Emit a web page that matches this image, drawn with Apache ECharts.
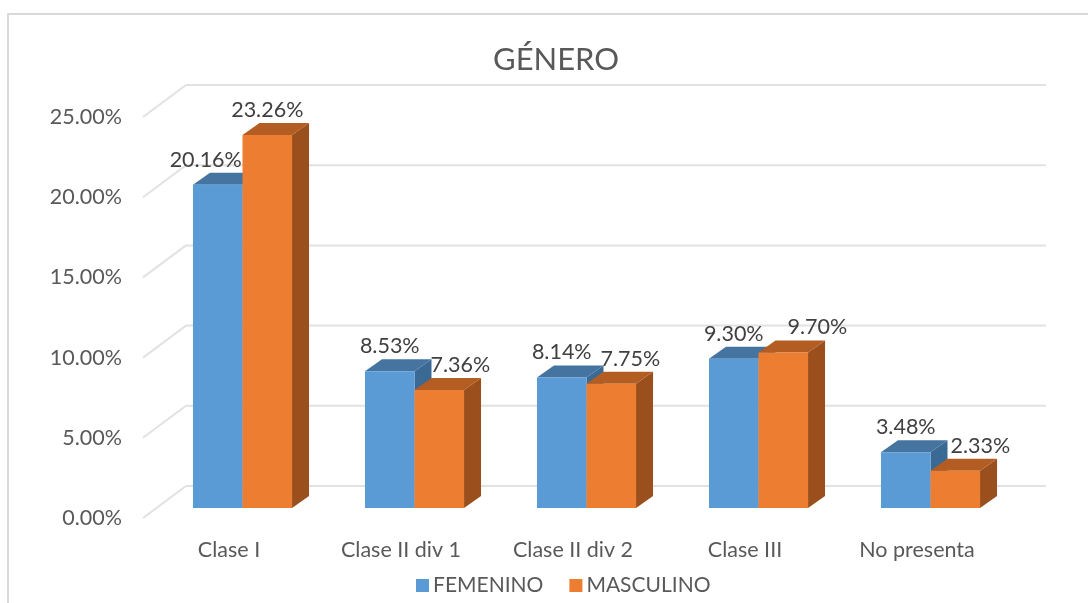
<!DOCTYPE html>
<html><head><meta charset="utf-8">
<style>html,body{margin:0;padding:0;background:#fff}#c{width:1088px;height:603px}</style>
<script src="https://cdn.jsdelivr.net/npm/echarts@6/dist/echarts.min.js"></script>
</head><body><div id="c"></div>
<script>
const categories = ['Clase I','Clase II div 1','Clase II div 2','Clase III','No presenta'];
const femenino = [20.16, 8.53, 8.14, 9.30, 3.48];
const masculino = [23.26, 7.36, 7.75, 9.70, 2.33];
const yTicks = [0, 5, 10, 15, 20, 25];

// label nudges (px) relative to the bar centre
const femLabelShift = [-12, 0, 0, 0, 0];
const masLabelShift = [0, 21, 19, 34, 25];

const FONT = 'Lato';
const TXT = '#595959';
const WALL = {dx: 43, dy: 32};
const BAR = {dx: 17, dy: 12, floorDy: 10};

function barRenderer(slot, colors, shifts) {
  return function (params, api) {
    const band = api.size([1, 0])[0];
    const w = band * 0.288;
    const c0 = api.coord([api.value(0), 0]);
    const c1 = api.coord([api.value(0), api.value(1)]);
    const x0 = c0[0] - band * 0.2095 + slot * w;
    const x1 = x0 + w;
    const yb = c0[1] - BAR.floorDy;
    const yt = c1[1] - BAR.floorDy;
    const d = BAR.dx, e = BAR.dy;
    const poly = (pts, fill) => ({type: 'polygon', shape: {points: pts}, style: {fill: fill}, z2: 1});
    return {
      type: 'group',
      children: [
        poly([[x1, yb], [x1 + d, yb - e], [x1 + d, yt - e], [x1, yt]], colors.side),
        poly([[x0, yt], [x0 + d, yt - e], [x1 + d, yt - e], [x1, yt]], colors.top),
        poly([[x0, yb], [x1, yb], [x1, yt], [x0, yt]], colors.front),
        {type: 'text', z2: 50, style: {
          text: api.value(1).toFixed(2) + '%',
          x: (x0 + x1) / 2 + shifts[params.dataIndex], y: yt - 25,
          align: 'center', verticalAlign: 'middle',
          font: '21.5px ' + FONT, fill: '#404040'
        }}
      ]
    };
  };
}

function gridRenderer(params, api) {
  const cs = params.coordSys;
  const y = api.coord([0, api.value(1)])[1];
  const st = {stroke: '#e2e2e2', lineWidth: 2, fill: null};
  return {type: 'group', children: [
    {type: 'line', shape: {x1: cs.x, y1: y, x2: cs.x + WALL.dx, y2: y - WALL.dy}, style: st},
    {type: 'line', shape: {x1: cs.x + WALL.dx, y1: y - WALL.dy, x2: cs.x + cs.width + WALL.dx, y2: y - WALL.dy}, style: st}
  ]};
}

const chart = echarts.init(document.getElementById('c'));
chart.setOption({
  animation: false,
  backgroundColor: '#fff',
  textStyle: {fontFamily: FONT},
  title: {text: 'GÉNERO', left: 488, top: 39,
    textStyle: {fontFamily: FONT, fontSize: 31, fontWeight: 'normal', color: TXT}},
  legend: {left: 411, top: 570, itemWidth: 13, itemHeight: 13, itemGap: 26, icon: 'rect',
    data: ['FEMENINO', 'MASCULINO'],
    textStyle: {fontFamily: FONT, fontSize: 21, color: TXT, padding: [0, 0, 0, -1]}},
  grid: {left: 143, top: 117, width: 860, height: 401},
  xAxis: {type: 'category', data: categories,
    axisLine: {show: false}, axisTick: {show: false},
    axisLabel: {margin: 21, fontFamily: FONT, fontSize: 21.5, color: TXT, interval: 0}},
  yAxis: {type: 'value', min: 0, max: 25, interval: 5,
    axisLine: {show: false}, axisTick: {show: false}, splitLine: {show: false},
    axisLabel: {margin: 21, fontFamily: FONT, fontSize: 21.5, color: TXT, lineHeight: 26, padding: [5, 0, 0, 0],
      formatter: v => v.toFixed(2) + '%'}},
  graphic: [
    {type: 'polyline', silent: true, shape: {points: [[8, 603], [8, 14], [1088, 14]]},
     style: {stroke: '#d9d9d9', lineWidth: 2, fill: null}}
  ],
  series: [
    {type: 'custom', name: 'grid', silent: true, clip: false, renderItem: gridRenderer,
     encode: {x: 0, y: 1}, data: yTicks.map(t => [0, t]), z: 1},
    {type: 'custom', name: 'FEMENINO', clip: false, z: 2,
     itemStyle: {color: '#5b9bd5'},
     renderItem: barRenderer(0, {front: '#5b9bd5', top: '#44749f', side: '#3a6a94'}, femLabelShift),
     encode: {x: 0, y: 1}, data: femenino.map((v, i) => [i, v])},
    {type: 'custom', name: 'MASCULINO', clip: false, z: 3,
     itemStyle: {color: '#ed7d31'},
     renderItem: barRenderer(1, {front: '#ed7d31', top: '#b45d23', side: '#9a4f1c'}, masLabelShift),
     encode: {x: 0, y: 1}, data: masculino.map((v, i) => [i, v])}
  ]
});
</script></body></html>
